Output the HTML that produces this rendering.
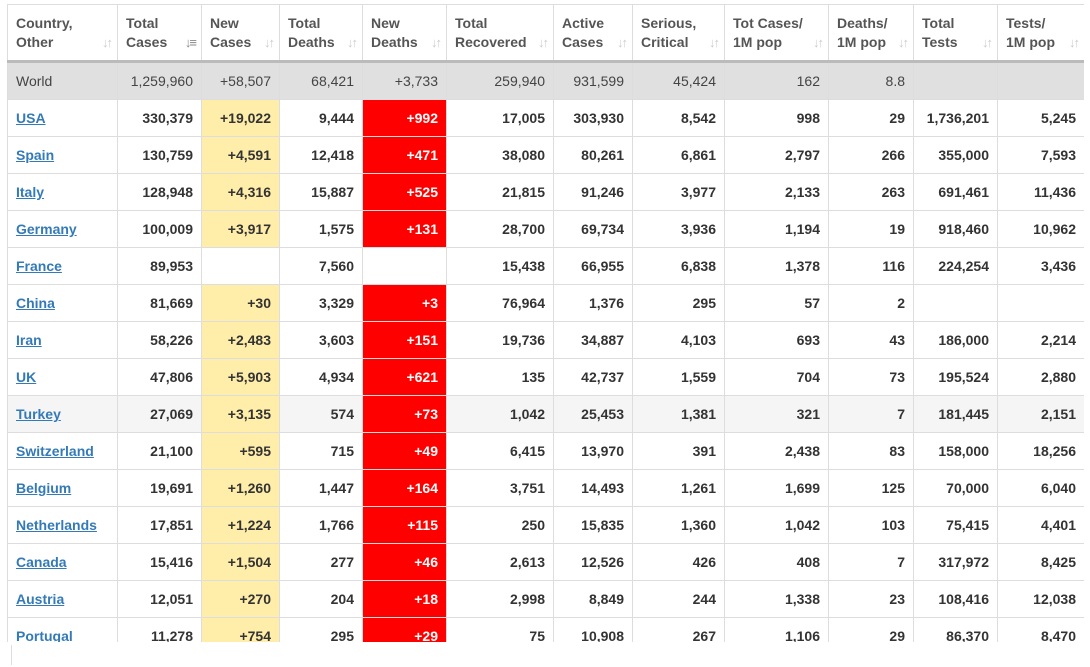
<!DOCTYPE html>
<html><head><meta charset="utf-8"><style>
body{margin:0;background:#fff;width:1090px;height:667px;overflow:hidden;font-family:"Liberation Sans",Arial,sans-serif;}
#wrap{position:absolute;left:7px;top:4px;width:1077px;height:638px;overflow:hidden;}
table{border-collapse:collapse;table-layout:fixed;width:1077px;font-size:14px;}
td,th{border:1px solid #ddd;padding:0 8px;height:36px;text-align:right;color:#333;font-weight:bold;white-space:nowrap;}
th{height:55px;text-align:left;vertical-align:middle;color:#555;font-size:14px;line-height:19px;position:relative;border-bottom:3px solid #bbb;padding-right:20px;}
th .s{position:absolute;right:6px;bottom:8px;color:#ccc;font-weight:bold;font-size:13px;letter-spacing:-2px;}
td:first-child{text-align:left;}
td a{color:#337ab7;text-decoration:underline;}
tr.world td{background:#e0e0e0;font-weight:normal;color:#444;}
tr.hov td{background:#f5f5f5;}
td.y{background:#ffeeaa !important;}
td.r{background:#ff0000 !important;color:#fff;}
#tick{position:absolute;left:11px;top:645px;width:1px;height:20px;background:#ddd;}
</style></head><body>
<div id="wrap">
<table>
<colgroup><col style="width:110px"><col style="width:84px"><col style="width:78px"><col style="width:83px"><col style="width:84px"><col style="width:107px"><col style="width:79px"><col style="width:92px"><col style="width:104px"><col style="width:85px"><col style="width:84px"><col style="width:87px"></colgroup>
<thead><tr>
<th>Country,<br>Other<span class="s">↓↑</span></th>
<th>Total<br>Cases<span class="s" style="color:#888">↓≡</span></th>
<th>New<br>Cases<span class="s">↓↑</span></th>
<th>Total<br>Deaths<span class="s">↓↑</span></th>
<th>New<br>Deaths<span class="s">↓↑</span></th>
<th>Total<br>Recovered<span class="s">↓↑</span></th>
<th>Active<br>Cases<span class="s">↓↑</span></th>
<th>Serious,<br>Critical<span class="s">↓↑</span></th>
<th>Tot Cases/<br>1M pop<span class="s">↓↑</span></th>
<th>Deaths/<br>1M pop<span class="s">↓↑</span></th>
<th>Total<br>Tests<span class="s">↓↑</span></th>
<th>Tests/<br>1M pop<span class="s">↓↑</span></th>
</tr></thead>
<tbody id="tb">
<tr class="world"><td>World</td><td>1,259,960</td><td>+58,507</td><td>68,421</td><td>+3,733</td><td>259,940</td><td>931,599</td><td>45,424</td><td>162</td><td>8.8</td><td></td><td></td></tr>
</tbody></table></div>
<div id="tick"></div>
<script>
const countries=["USA","Spain","Italy","Germany","France","China","Iran","UK","Turkey","Switzerland","Belgium","Netherlands","Canada","Austria","Portugal"];
const totalCases=["330,379","130,759","128,948","100,009","89,953","81,669","58,226","47,806","27,069","21,100","19,691","17,851","15,416","12,051","11,278"];
const newCases=["+19,022","+4,591","+4,316","+3,917","","+30","+2,483","+5,903","+3,135","+595","+1,260","+1,224","+1,504","+270","+754"];
const totalDeaths=["9,444","12,418","15,887","1,575","7,560","3,329","3,603","4,934","574","715","1,447","1,766","277","204","295"];
const newDeaths=["+992","+471","+525","+131","","+3","+151","+621","+73","+49","+164","+115","+46","+18","+29"];
const recovered=["17,005","38,080","21,815","28,700","15,438","76,964","19,736","135","1,042","6,415","3,751","250","2,613","2,998","75"];
const active=["303,930","80,261","91,246","69,734","66,955","1,376","34,887","42,737","25,453","13,970","14,493","15,835","12,526","8,849","10,908"];
const serious=["8,542","6,861","3,977","3,936","6,838","295","4,103","1,559","1,381","391","1,261","1,360","426","244","267"];
const casesPerM=["998","2,797","2,133","1,194","1,378","57","693","704","321","2,438","1,699","1,042","408","1,338","1,106"];
const deathsPerM=["29","266","263","19","116","2","43","73","7","83","125","103","7","23","29"];
const tests=["1,736,201","355,000","691,461","918,460","224,254","","186,000","195,524","181,445","158,000","70,000","75,415","317,972","108,416","86,370"];
const testsPerM=["5,245","7,593","11,436","10,962","3,436","","2,214","2,880","2,151","18,256","6,040","4,401","8,425","12,038","8,470"];
const tb=document.getElementById('tb');
countries.forEach((c,i)=>{
  const tr=document.createElement('tr');
  
  
  if(c==='Turkey')tr.className='hov';
  const vals=[c,totalCases[i],newCases[i],totalDeaths[i],newDeaths[i],recovered[i],active[i],serious[i],casesPerM[i],deathsPerM[i],tests[i],testsPerM[i]];
  vals.forEach((v,j)=>{
    const td=document.createElement('td');
    
    
    if(j===0){const a=document.createElement('a');a.textContent=v;
      
      
      td.appendChild(a);}
    else td.textContent=v;
    if(j===2&&v)td.className='y';
    if(j===4&&v)td.className='r';
    tr.appendChild(td);
  });
  tb.appendChild(tr);
});
</script>
</body></html>
